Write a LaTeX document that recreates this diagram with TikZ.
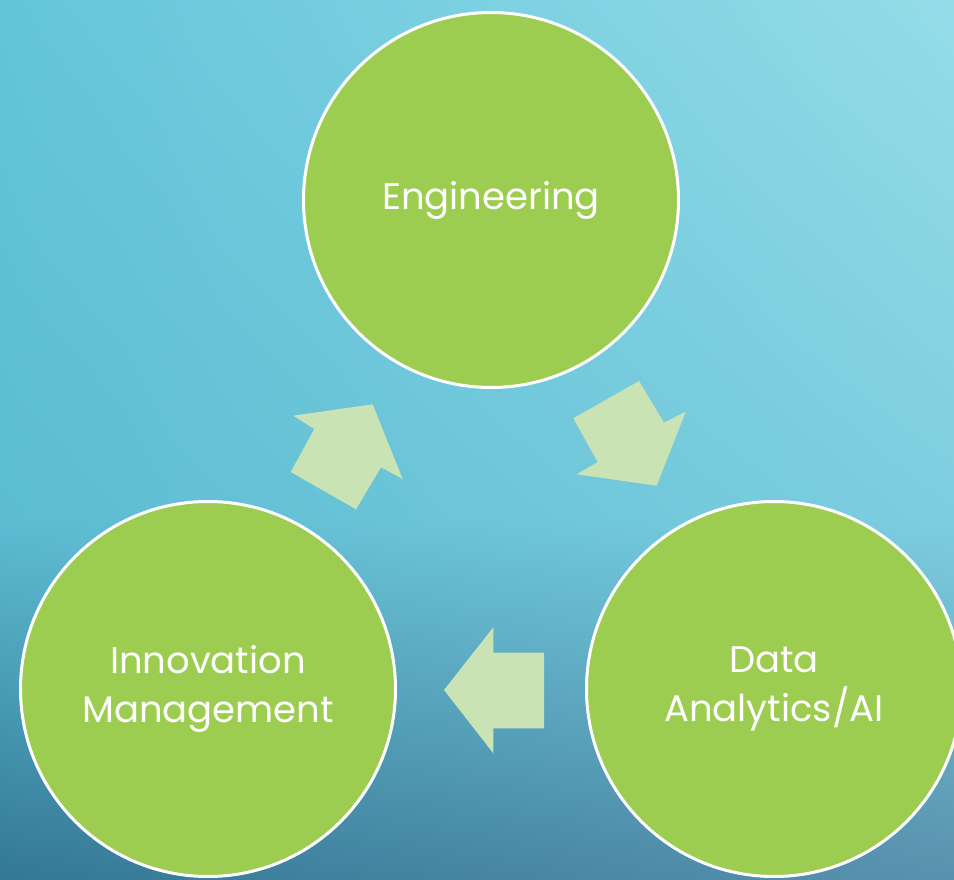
\documentclass[tikz,border=0pt]{standalone}
\usepackage{fontspec}
\setmainfont{Poppins}
\usetikzlibrary{shadings}
\begin{document}
\begin{tikzpicture}[x=1pt,y=-1pt,
  bubble/.style={circle, draw=white, line width=3pt, fill=bubblegreen,
    minimum size=375pt, inner sep=0pt, text=white, align=center,
    font=\fontsize{37}{48.7}\selectfont},
  blockarrow/.style={fill=arrowgreen, draw=none}]
\definecolor{bubblegreen}{HTML}{9CCD50}
\definecolor{arrowgreen}{HTML}{C9E3B4}
\definecolor{bgTL}{HTML}{64C5DA}
\definecolor{bgTR}{HTML}{94DCE8}
\definecolor{bgML}{HTML}{5CBCD2}
\definecolor{bgMR}{HTML}{7DCEDF}
\definecolor{bgBL}{HTML}{337896}
\definecolor{bgBR}{HTML}{5891AD}
\useasboundingbox (0,0) rectangle (954,880);
\clip (0,0) rectangle (954,880);
% background
\shade[upper left=bgTL, upper right=bgTR, lower left=bgML, lower right=bgMR]
  (0,0) rectangle (954,520);
\shade[upper left=bgML, upper right=bgMR, lower left=bgBL, lower right=bgBR]
  (0,519.5) rectangle (954,880);
% circles
\node[bubble] (eng) at (491,200) {Engineering};
\node[bubble] (inn) at (208,689) {Innovation\\Management};
\node[bubble] (dat) at (774,689) {Data\\Analytics/AI};
% block arrows
\fill[blockarrow] (290.7,472) -- (314.3,429) -- (293.3,415.7) -- (372.7,404.3)
  -- (402.7,479) -- (381,467.3) -- (356,509.3) -- cycle;
\fill[blockarrow] (573.3,418.3) -- (639,381) -- (664,422.7) -- (685.7,411.7)
  -- (656.7,485.7) -- (576.7,474.3) -- (597.7,462) -- cycle;
\fill[blockarrow] (544,652.7) -- (493.3,652.7) -- (493.3,627.3) -- (444,690)
  -- (493.3,753.3) -- (493.3,728.3) -- (544,728.3) -- cycle;
\end{tikzpicture}
\end{document}
